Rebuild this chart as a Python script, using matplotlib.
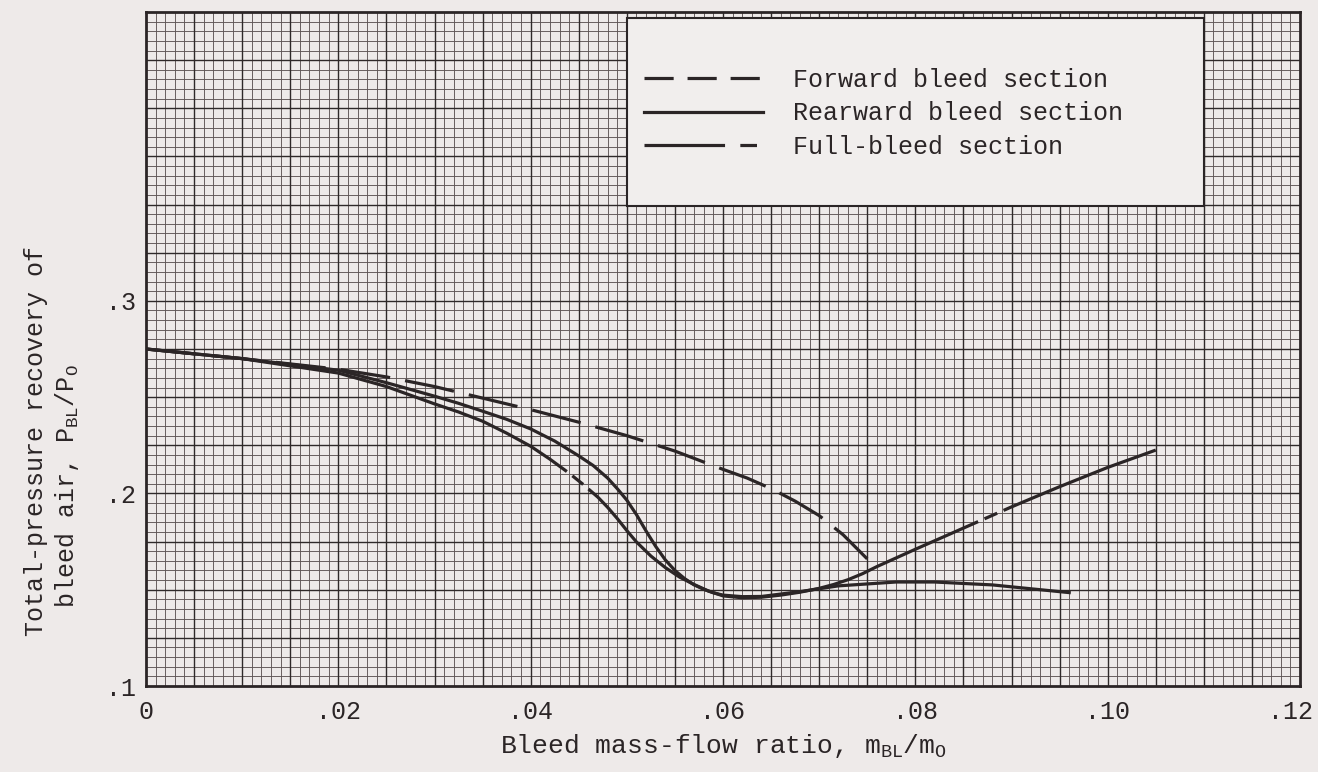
import numpy as np
import matplotlib.pyplot as plt
from matplotlib.ticker import MultipleLocator
from matplotlib.lines import Line2D
from matplotlib.patches import Rectangle
from matplotlib.transforms import ScaledTranslation

plt.rcParams['font.family'] = ['Liberation Mono', 'DejaVu Sans Mono']
plt.rcParams['mathtext.fontset'] = 'custom'
plt.rcParams['mathtext.rm'] = 'Liberation Mono'
plt.rcParams['mathtext.it'] = 'Liberation Mono'
plt.rcParams['lines.scale_dashes'] = False

# forward bleed section (dashed)
fwd_x = [0, 0.01, 0.02, 0.025, 0.03, 0.035, 0.04, 0.045, 0.05, 0.055, 0.06, 0.0625, 0.065, 0.0675,
         0.07, 0.0725, 0.075]
fwd_y = [0.275, 0.270, 0.2645, 0.2605, 0.2555, 0.2495, 0.2435, 0.237, 0.230, 0.222, 0.2125, 0.208, 0.2025, 0.196,
         0.1885, 0.1785, 0.166]

# rearward bleed section (solid)
rear_x = [0, 0.01, 0.02, 0.025, 0.03, 0.0325, 0.035, 0.0375, 0.04, 0.0425, 0.045, 0.0465, 0.048, 0.049,
          0.05, 0.051, 0.052, 0.053, 0.054, 0.055, 0.056, 0.057, 0.058, 0.059, 0.06, 0.062, 0.064,
          0.068, 0.072, 0.078, 0.082, 0.088, 0.092, 0.096]
rear_y = [0.275, 0.270, 0.264, 0.2575, 0.2505, 0.2468, 0.2427, 0.2385, 0.2335, 0.2272, 0.2195, 0.2145, 0.208, 0.2025,
          0.1965, 0.189, 0.1805, 0.1725, 0.1655, 0.1600, 0.1558, 0.1525, 0.1502, 0.1484, 0.1472, 0.1464, 0.1465,
          0.149, 0.152, 0.154, 0.154, 0.1525, 0.1505, 0.1485]

# full-bleed section (long-short dash)
full_x = [0, 0.01, 0.02, 0.025, 0.03, 0.0325, 0.035, 0.0375, 0.04, 0.042, 0.044, 0.0455, 0.047, 0.048,
          0.049, 0.05, 0.051, 0.0525, 0.054, 0.0555, 0.057, 0.0585, 0.06, 0.062, 0.064, 0.066, 0.068,
          0.07, 0.0715, 0.073, 0.0745, 0.076, 0.08, 0.085, 0.09, 0.095, 0.10, 0.105]
full_y = [0.275, 0.270, 0.2625, 0.2555, 0.2465, 0.2423, 0.2375, 0.2313, 0.2245, 0.2178, 0.2105, 0.2045, 0.198, 0.1928,
          0.187, 0.1807, 0.1748, 0.1675, 0.1615, 0.1565, 0.1527, 0.1493, 0.1468, 0.1458, 0.1461, 0.1472, 0.1487,
          0.1507, 0.1527, 0.1552, 0.1583, 0.162, 0.171, 0.182, 0.193, 0.2035, 0.2135, 0.2225]

x_ticks = [0, 0.02, 0.04, 0.06, 0.08, 0.10, 0.12]
x_labels = ['0', '.02', '.04', '.06', '.08', '.10', '.12']
y_ticks = [0.1, 0.2, 0.3]
y_labels = ['.1', '.2', '.3']
names = ['Forward bleed section', 'Rearward bleed section', 'Full-bleed section']

paper = '#eeeae9'
ink = '#2b2526'
fs = 18

fig = plt.figure(figsize=(13.18, 7.72), dpi=100, facecolor=paper)
ax = fig.add_axes([146 / 1318, 1 - 686 / 772, 1154 / 1318, 674 / 772])
ax.set_facecolor(paper)
ax.set_xlim(0, 0.12)
ax.set_ylim(0.1, 0.45)

# graph paper: fine lines from minor ticks, heavy lines every 0.005 / 0.025
ax.xaxis.set_minor_locator(MultipleLocator(0.001))
ax.yaxis.set_minor_locator(MultipleLocator(0.005))
ax.grid(which='minor', color='#5f5656', lw=0.65)
for v in np.arange(0.005, 0.12, 0.005):
    ax.axvline(v, color='#2f2929', lw=1.0, zorder=0.6)
for v in np.arange(0.125, 0.45, 0.025):
    ax.axhline(v, color='#2f2929', lw=1.0, zorder=0.6)
ax.set_axisbelow(True)

ax.set_xticks(x_ticks, x_labels)
ax.set_yticks(y_ticks, y_labels)
ax.tick_params(which='both', length=0, labelsize=fs, colors=ink)
ax.tick_params(axis='x', pad=10)
ax.tick_params(axis='y', pad=7)
last = ax.get_xticklabels()[-1]
last.set_transform(last.get_transform() + ScaledTranslation(-0.10, 0, fig.dpi_scale_trans))

for s in ax.spines.values():
    s.set_color(ink)
    s.set_linewidth(2.0)

lw = 2.3
ax.plot(fwd_x, fwd_y, color=ink, lw=lw, dashes=(36, 11), dash_capstyle='butt')
ax.plot(rear_x, rear_y, color=ink, lw=lw, solid_joinstyle='round')
ax.plot(full_x, full_y, color=ink, lw=lw, dashes=(320, 5, 10, 5), dash_capstyle='butt')

ax.set_xlabel(r'Bleed mass-flow ratio, m$_{\mathrm{BL}}$/m$_{\mathrm{O}}$', fontsize=fs + 1, color=ink, labelpad=6)

# two-line typewritten y label, second line indented
fig.text(36 / 1318, 1 - 636 / 772, 'Total-pressure recovery of', rotation=90, rotation_mode='anchor',
         ha='left', va='center', fontsize=fs, color=ink)
fig.text(67 / 1318, 1 - 608 / 772, r'bleed air, P$_{\mathrm{BL}}$/P$_{\mathrm{O}}$', rotation=90,
         rotation_mode='anchor', ha='left', va='center', fontsize=fs, color=ink)

# legend box
box = Rectangle((0.05, 0.349), 0.06, 0.098, facecolor='#f1eeed', edgecolor=ink, lw=1.5, zorder=3)
ax.add_patch(box)
handles = [Line2D([], [], color=ink, lw=lw, dashes=(21, 10)),
           Line2D([], [], color=ink, lw=lw),
           Line2D([], [], color=ink, lw=lw, dashes=(58, 11, 12, 11))]
leg = ax.legend(handles, names, loc='upper left', bbox_to_anchor=(0.0518, 0.421), bbox_transform=ax.transData,
                frameon=False, fontsize=fs, handlelength=4.76, handletextpad=1.2, labelspacing=0.38,
                borderaxespad=0, borderpad=0)
leg.set_zorder(4)
for t in leg.get_texts():
    t.set_color(ink)

fig.savefig('out.png', dpi=100, facecolor=paper)
